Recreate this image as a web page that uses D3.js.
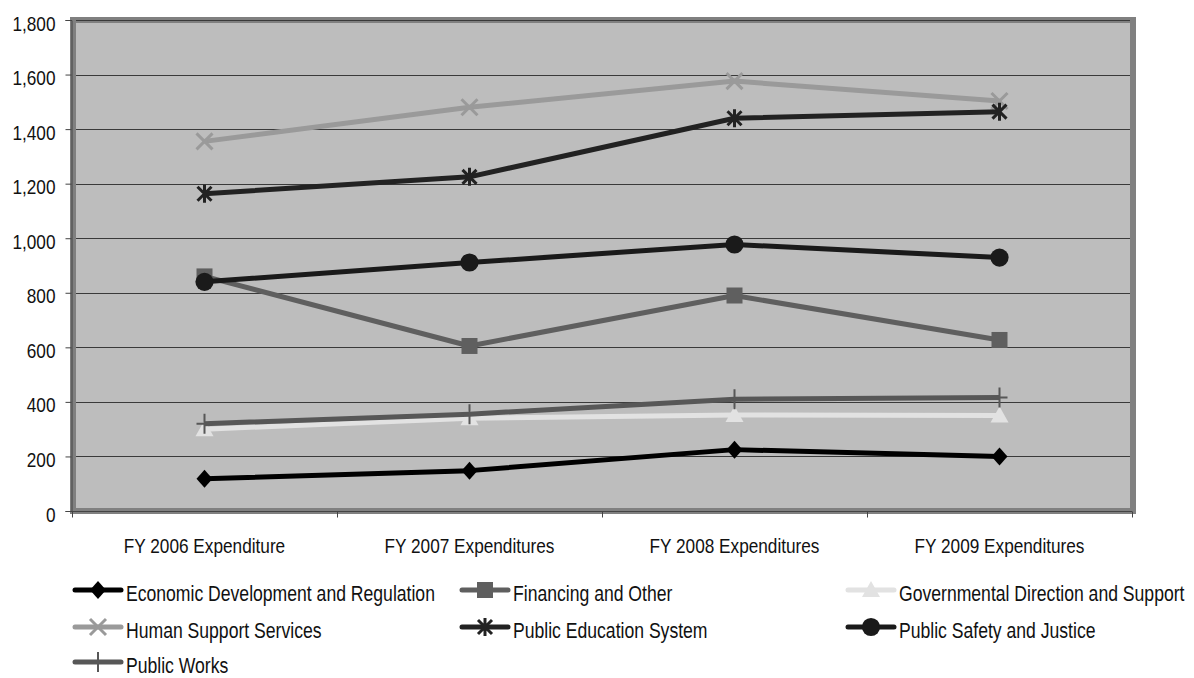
<!DOCTYPE html>
<html>
<head>
<meta charset="utf-8">
<script src="https://cdn.jsdelivr.net/npm/d3@7"></script>
<style>
  html, body { margin: 0; padding: 0; background: #fff; }
  svg { display: block; }
  text { font-family: "Liberation Sans", Arial, sans-serif; fill: #111; }
</style>
</head>
<body>
<svg id="chart" width="1194" height="678"></svg>
<script>
const categories = ["FY 2006 Expenditure", "FY 2007 Expenditures", "FY 2008 Expenditures", "FY 2009 Expenditures"];
const yTicks = [0, 200, 400, 600, 800, 1000, 1200, 1400, 1600, 1800];

const economicDevelopment = [118, 148, 225, 200];
const financingOther = [860, 605, 790, 627];
const governmentalDirection = [300, 340, 352, 350];
const humanSupport = [1355, 1480, 1576, 1503];
const publicEducation = [1163, 1225, 1440, 1464];
const publicSafety = [840, 911, 977, 929];
const publicWorks = [320, 355, 410, 416];

const seriesNames = ["Economic Development and Regulation", "Financing and Other", "Governmental Direction and Support",
  "Human Support Services", "Public Education System", "Public Safety and Justice", "Public Works"];
const seriesValues = [economicDevelopment, financingOther, governmentalDirection, humanSupport, publicEducation, publicSafety, publicWorks];
const seriesColors = ["#000000", "#5f5f5f", "#e2e2e2", "#9a9a9a", "#222222", "#1a1a1a", "#575757"];
const seriesMarkers = ["diamond", "square", "triangle", "x", "star", "circle", "plus"];

const svg = d3.select("#chart");
const pLeft = 72, pRight = 1132, pTop = 20, pBottom = 511;
const AXIS_FS = "21px", AXIS_SX = 0.82;
const LEG_FS = "22px", LEG_SX = 0.8;

const x = d3.scaleBand().domain(categories).range([pLeft, pRight]).padding(0);
const y = d3.scaleLinear().domain([0, 1800]).range([pBottom, pTop]);

// plot area
svg.append("rect").attr("x", pLeft + 1).attr("y", pTop).attr("width", pRight - pLeft).attr("height", pBottom - pTop)
  .attr("fill", "#bdbdbd").attr("stroke", "#808080").attr("stroke-width", 6);

// gridlines
svg.append("g").selectAll("line").data(yTicks.filter(d => d > 0)).join("line")
  .attr("x1", pLeft + 4).attr("x2", pRight - 2)
  .attr("y1", d => Math.round(y(d)) + 0.5).attr("y2", d => Math.round(y(d)) + 0.5)
  .attr("stroke", "#3a3a3a").attr("stroke-width", 1);

// y axis
const yAxis = d3.axisLeft(y).tickValues(yTicks).tickSize(6).tickPadding(0).tickFormat(d3.format(","));
const gy = svg.append("g").attr("transform", `translate(${pLeft - 0.5},0)`).call(yAxis);
gy.select(".domain").attr("stroke", "#444");
gy.selectAll(".tick line").attr("stroke", "#444");
gy.selectAll(".tick text").attr("x", null).attr("dy", null).attr("y", 10)
  .attr("transform", `translate(-16,0) scale(${AXIS_SX},1)`)
  .style("font-size", AXIS_FS).attr("fill", "#111");

// x axis (ticks on category boundaries)
const boundaries = categories.map(c => x(c)).concat([x(categories[categories.length - 1]) + x.bandwidth()]);
const gx = svg.append("g").attr("transform", `translate(0,${pBottom + 0.5})`);
gx.append("line").attr("x1", pLeft - 6).attr("x2", pRight).attr("stroke", "#444");
gx.selectAll("line.tk").data(boundaries).join("line").attr("class", "tk")
  .attr("x1", d => Math.round(d) + 0.5).attr("x2", d => Math.round(d) + 0.5).attr("y1", 0).attr("y2", 6).attr("stroke", "#444");
gx.selectAll("text").data(categories).join("text")
  .attr("transform", d => `translate(${x(d) + x.bandwidth() / 2},41) scale(${AXIS_SX},1)`)
  .attr("text-anchor", "middle").style("font-size", AXIS_FS).text(d => d);

function markerPath(type) {
  switch (type) {
    case "diamond": return "M0,-9L8,0L0,9L-8,0Z";
    case "square": return "M-8,-8H8V8H-8Z";
    case "triangle": return "M0,-9L9,7H-9Z";
    case "circle": return d3.symbol(d3.symbolCircle, 260)();
    case "x": return "M-8,-8L8,8M-8,8L8,-8";
    case "star": return "M-7,-7L7,7M-7,7L7,-7M0,-9V9";
    case "plus": return "M-8,0H8M0,-10V10";
  }
}
const strokeMarkers = new Set(["x", "star", "plus"]);

const line = d3.line().x((d, i) => x(categories[i]) + x.bandwidth() / 2).y(d => y(d));

seriesValues.forEach((vals, si) => {
  const g = svg.append("g");
  g.append("path").datum(vals).attr("d", line).attr("fill", "none")
    .attr("stroke", seriesColors[si]).attr("stroke-width", 5).attr("stroke-linejoin", "round");
  g.selectAll("path.m").data(vals).join("path").attr("class", "m")
    .attr("transform", (d, i) => `translate(${x(categories[i]) + x.bandwidth() / 2},${y(d)})`)
    .attr("d", markerPath(seriesMarkers[si]))
    .attr("fill", strokeMarkers.has(seriesMarkers[si]) ? "none" : seriesColors[si])
    .attr("stroke", strokeMarkers.has(seriesMarkers[si]) ? seriesColors[si] : "none")
    .attr("stroke-width", seriesMarkers[si] === "plus" ? 2 : 3);
});

// legend
const colX = [73, 460, 846];
const rowY = [590, 627, 662];
seriesNames.forEach((name, si) => {
  const cx = colX[si % 3], cy = rowY[Math.floor(si / 3)];
  const g = svg.append("g").attr("transform", `translate(${cx},${cy})`);
  g.append("line").attr("x1", 2).attr("x2", 48).attr("y1", 0).attr("y2", 0)
    .attr("stroke", seriesColors[si]).attr("stroke-width", 5).attr("stroke-linecap", "round");
  g.append("path").attr("transform", "translate(25,0)")
    .attr("d", markerPath(seriesMarkers[si]))
    .attr("fill", strokeMarkers.has(seriesMarkers[si]) ? "none" : seriesColors[si])
    .attr("stroke", strokeMarkers.has(seriesMarkers[si]) ? seriesColors[si] : "none")
    .attr("stroke-width", seriesMarkers[si] === "plus" ? 2 : 3);
  g.append("text").attr("transform", `translate(53,11) scale(${LEG_SX},1)`).style("font-size", LEG_FS).text(name);
});
</script>
</body>
</html>
